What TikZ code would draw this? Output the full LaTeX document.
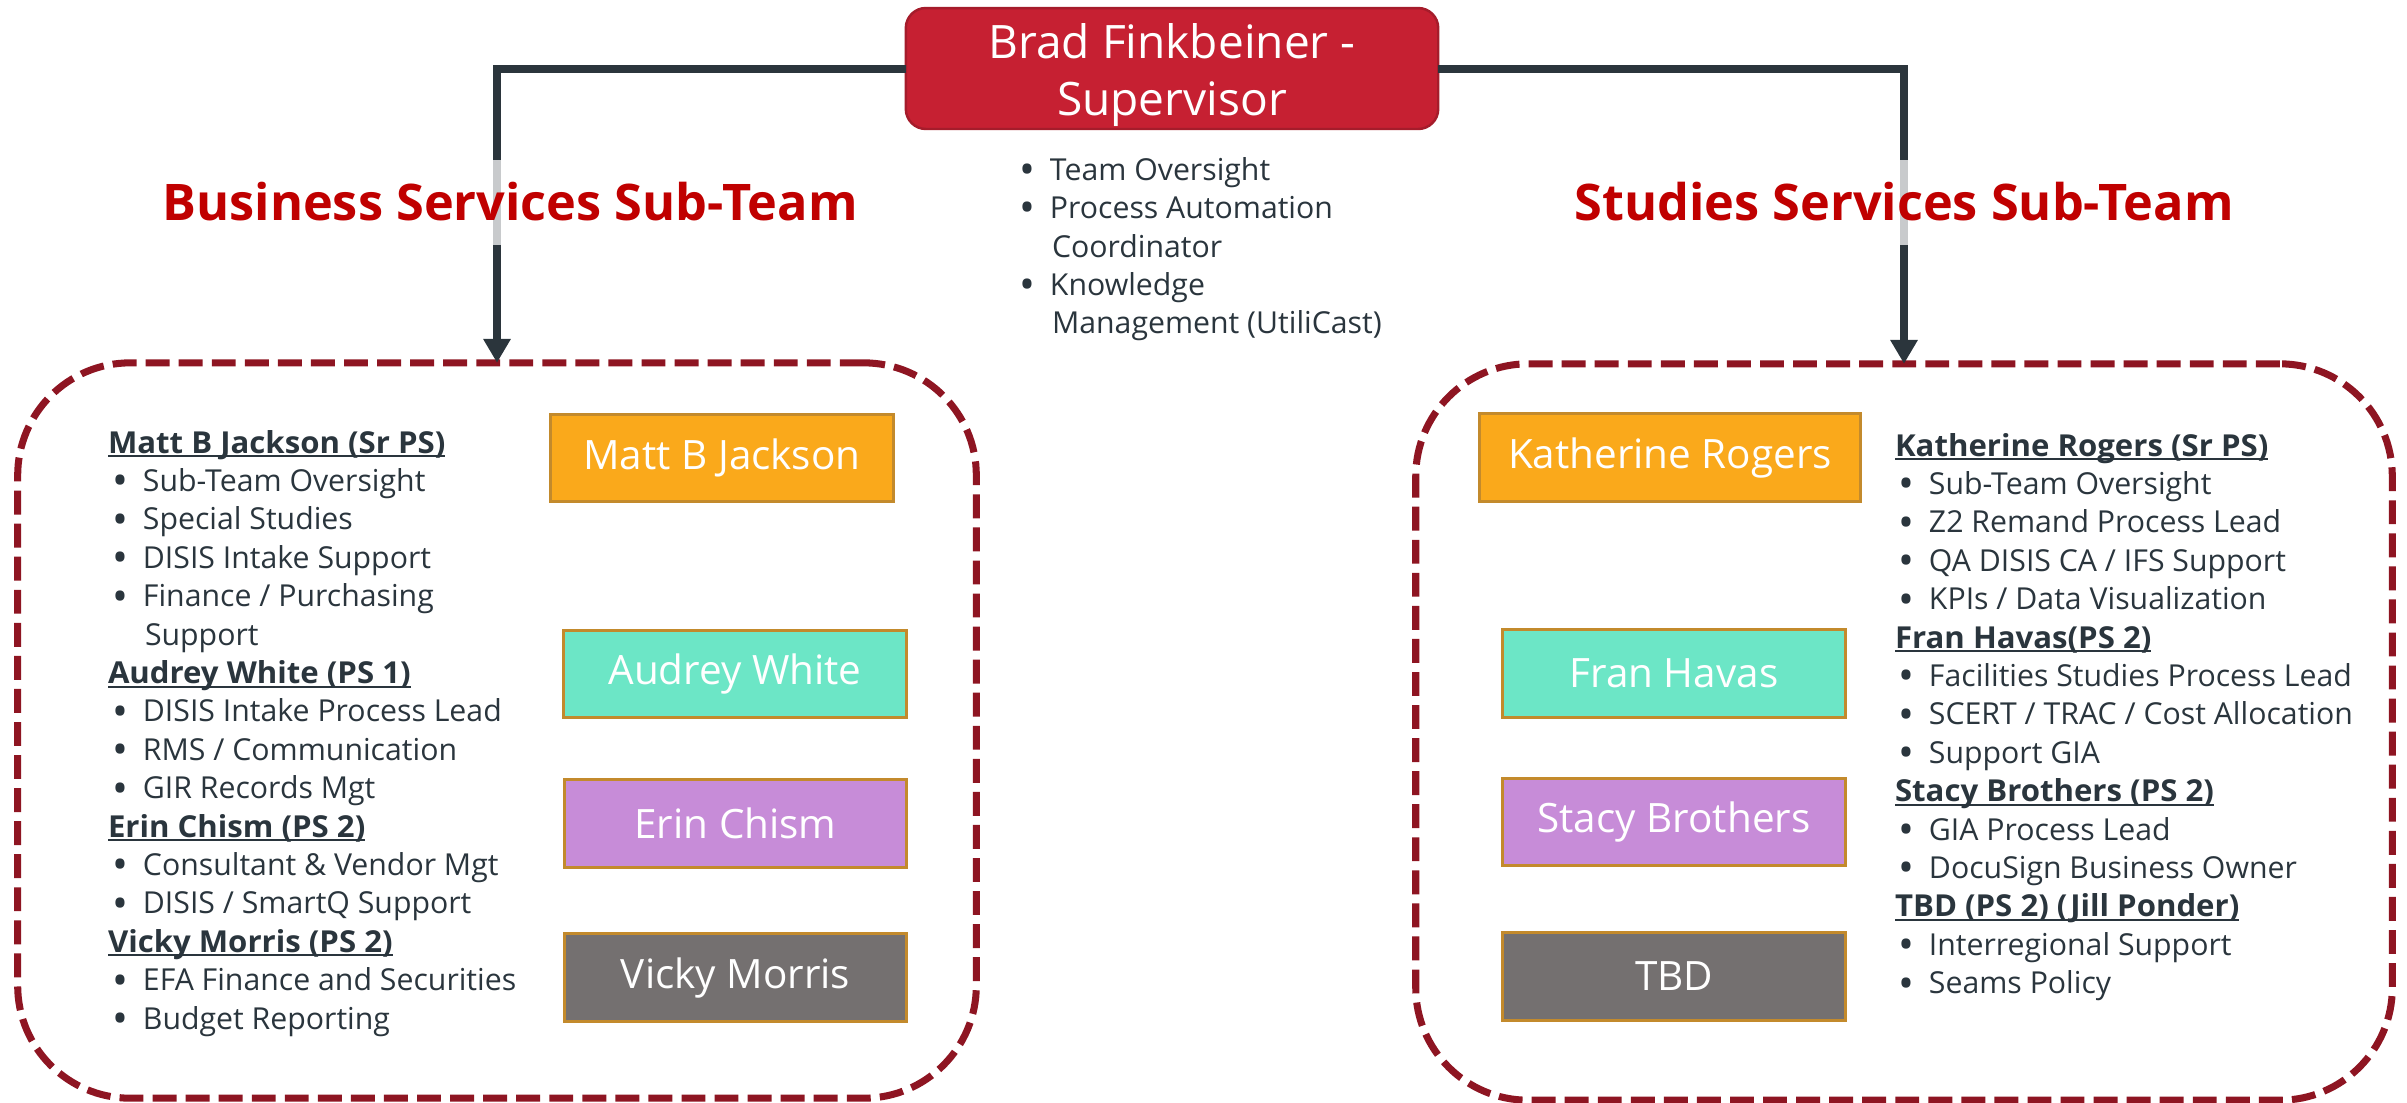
\documentclass[tikz,border=0pt]{standalone}
\usepackage{fontspec}
\setmainfont{Open Sans}
\newfontfamily\nf{Open Sans}
\newfontfamily\hf[FakeStretch=1.03]{Open Sans}
\usetikzlibrary{arrows.meta}
\definecolor{supred}{HTML}{C62032}
\definecolor{supedge}{HTML}{A51C2B}
\definecolor{titlered}{HTML}{C00000}
\definecolor{connc}{HTML}{2B353C}
\definecolor{dashc}{HTML}{8E1522}
\definecolor{txtc}{HTML}{2A353D}
\definecolor{orangec}{HTML}{FAA91B}
\definecolor{tealc}{HTML}{6CE6C6}
\definecolor{purplec}{HTML}{C78CD8}
\definecolor{grayc}{HTML}{747070}
\definecolor{edgec}{HTML}{C38A2C}
\newcommand\bul{\makebox[8.8pt][l]{\raisebox{-1.3pt}{\scalebox{1.4}{•}}}}
\newcommand\ulh[1]{\setbox0\hbox{#1}\rlap{\rule[-1.2pt]{\wd0}{0.6pt}}\box0}
\begin{document}
\begin{tikzpicture}[x=0.01cm,y=-0.01cm,
  every node/.style={inner sep=0pt, outer sep=0pt},
  conn/.style={draw=connc, line width=2.28pt, -{Triangle[width=7.4pt,length=6.8pt]}},
  teambox/.style={draw=dashc, line width=2pt, dash pattern=on 6.8pt off 2.6pt, rounded corners=32pt},
  title/.style={fill=white, fill opacity=0.74, text opacity=1, text=titlered, font=\nf\bfseries\fontsize{14.35}{18}\selectfont, text height=10.4pt, text depth=0pt, minimum height=24.2pt},
  pbox/.style={draw=edgec, line width=0.85pt, minimum width=97.3pt, minimum height=25pt, text=white, font=\nf\fontsize{11.5}{13}\selectfont},
  suptxt/.style={anchor=base, text=white, font=\nf\fontsize{13.1}{16.2}\selectfont},
  txt/.style={anchor=base west, text=txtc, font=\nf\fontsize{8.6}{10}\selectfont},
  hdr/.style={txt, font=\hf\bfseries\fontsize{8.6}{10}\selectfont}]
\useasboundingbox (0,0) rectangle (2407,1102);

% supervisor
\node[draw=supedge, line width=0.7pt, fill=supred, rounded corners=5.7pt, minimum width=151.4pt, minimum height=34.4pt] (sup) at (1172,68.5) {};
\node[suptxt] (supa) at (1172,58) {Brad Finkbeiner -};
\node[suptxt] (supb) at (1172,115) {Supervisor};

% team boxes
\node[teambox, minimum width=272.6pt, minimum height=209.1pt] (lbox) at (497,730.5) {};
\node[teambox, minimum width=277.7pt, minimum height=209.4pt] (rbox) at (1904,732) {};

% connectors
\draw[conn] (sup.west) -| (lbox.north);
\draw[conn] (sup.east) -| (rbox.north);

% titles
\node[title] (ltitle) at (510,202.5) {Business Services Sub-Team};
\node[title] (rtitle) at (1904,202.5) {Studies Services Sub-Team};

% supervisor duties
\node[txt] (s1) at (1019,180) {\bul Team Oversight};
\node[txt] (s2) at (1019,218) {\bul Process Automation};
\node[txt] (s3) at (1052,257) {Coordinator};
\node[txt] (s4) at (1019,295) {\bul Knowledge};
\node[txt] (s5) at (1052,333) {Management (UtiliCast)};

% person boxes left
\node[pbox, fill=orangec] (matt) at (722,458) {Matt B Jackson};
\node[pbox, fill=tealc] (audrey) at (735,674) {Audrey White};
\node[pbox, fill=purplec] (erin) at (735.5,823.5) {Erin Chism};
\node[pbox, fill=grayc] (vicky) at (735.5,977.5) {Vicky Morris};

% person boxes right
\node[pbox, fill=orangec, minimum width=108.1pt] (kath) at (1670,457.5) {Katherine Rogers};
\node[pbox, fill=tealc] (fran) at (1674,673.5) {Fran Havas};
\node[pbox, fill=purplec] (stacy) at (1674,822) {Stacy Brothers};
\node[pbox, fill=grayc] (tbd) at (1674,976.5) {TBD};

% left list
\node[hdr] (l1) at (108,453) {\ulh{Matt B Jackson (Sr PS)}};
\node[txt] (l2) at (112,491.4) {\bul Sub-Team Oversight};
\node[txt] (l3) at (112,529.8) {\bul Special Studies};
\node[txt] (l4) at (112,568.2) {\bul DISIS Intake Support};
\node[txt] (l5) at (112,606.6) {\bul Finance / Purchasing};
\node[txt] (l6) at (145,645) {Support};
\node[hdr] (l7) at (108,683.4) {\ulh{Audrey White (PS 1)}};
\node[txt] (l8) at (112,721.8) {\bul DISIS Intake Process Lead};
\node[txt] (l9) at (112,760.2) {\bul RMS / Communication};
\node[txt] (l10) at (112,798.6) {\bul GIR Records Mgt};
\node[hdr] (l11) at (108,837) {\ulh{Erin Chism (PS 2)}};
\node[txt] (l12) at (112,875.4) {\bul Consultant \& Vendor Mgt};
\node[txt] (l13) at (112,913.8) {\bul DISIS / SmartQ Support};
\node[hdr] (l14) at (108,952.2) {\ulh{Vicky Morris (PS 2)}};
\node[txt] (l15) at (112,990.6) {\bul EFA Finance and Securities};
\node[txt] (l16) at (112,1029) {\bul Budget Reporting};

% right list
\node[hdr] (r1) at (1895,456) {\ulh{Katherine Rogers (Sr PS)}};
\node[txt] (r2) at (1898,494.4) {\bul Sub-Team Oversight};
\node[txt] (r3) at (1898,532.8) {\bul Z2 Remand Process Lead};
\node[txt] (r4) at (1898,571.2) {\bul QA DISIS CA / IFS Support};
\node[txt] (r5) at (1898,609.6) {\bul KPIs / Data Visualization};
\node[hdr] (r6) at (1895,648) {\ulh{Fran Havas(PS 2)}};
\node[txt] (r7) at (1898,686.4) {\bul Facilities Studies Process Lead};
\node[txt] (r8) at (1898,724.8) {\bul SCERT / TRAC / Cost Allocation};
\node[txt] (r9) at (1898,763.2) {\bul Support GIA};
\node[hdr] (r10) at (1895,801.6) {\ulh{Stacy Brothers (PS 2)}};
\node[txt] (r11) at (1898,840) {\bul GIA Process Lead};
\node[txt] (r12) at (1898,878.4) {\bul DocuSign Business Owner};
\node[hdr] (r13) at (1895,916.8) {\ulh{TBD (PS 2) (Jill Ponder)}};
\node[txt] (r14) at (1898,955.2) {\bul Interregional Support};
\node[txt] (r15) at (1898,993.6) {\bul Seams Policy};
\end{tikzpicture}
\end{document}
